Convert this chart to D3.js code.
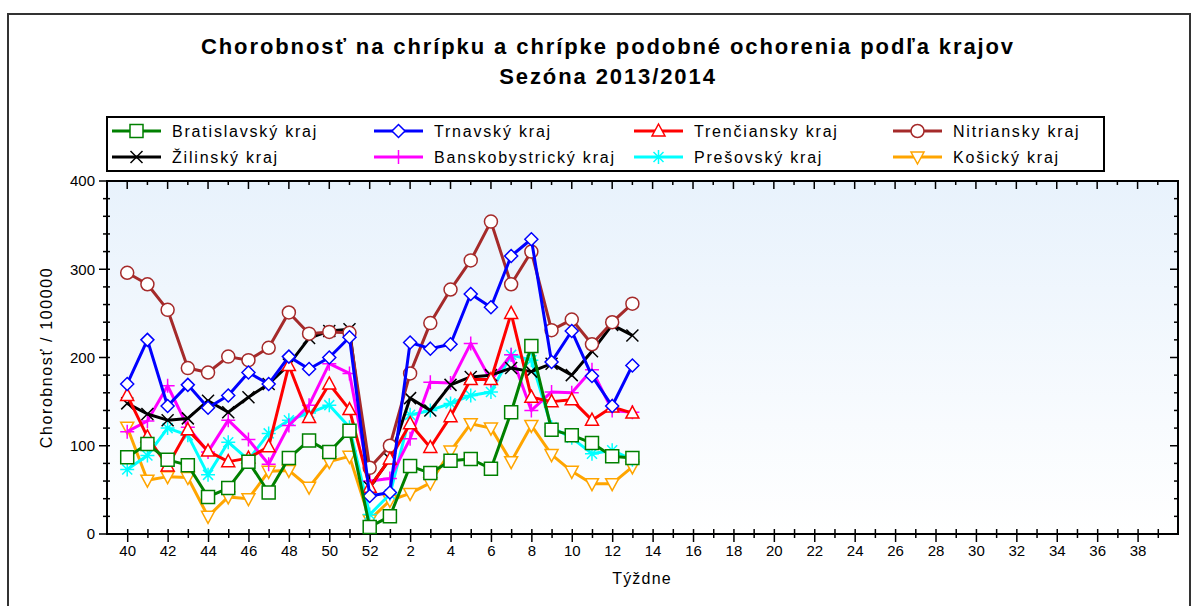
<!DOCTYPE html>
<html>
<head>
<meta charset="utf-8">
<script src="https://cdn.jsdelivr.net/npm/d3@7"></script>
<style>
  body { margin: 0; background: #fff; }
  text { font-family: "Liberation Sans", Arial, sans-serif; fill: #000; }
</style>
</head>
<body>
<div id="chart"></div>
<script>
// loading data (week 40 of 2013 .. week 13 of 2014)
var weeks = [40, 41, 42, 43, 44, 45, 46, 47, 48, 49, 50, 51, 52, 1, 2, 3, 4, 5, 6, 7, 8, 9, 10, 11, 12, 13];
var axisWeeks = [40, 41, 42, 43, 44, 45, 46, 47, 48, 49, 50, 51, 52, 1, 2, 3, 4, 5, 6, 7, 8, 9, 10, 11, 12, 13,
  14, 15, 16, 17, 18, 19, 20, 21, 22, 23, 24, 25, 26, 27, 28, 29, 30, 31, 32, 33, 34, 35, 36, 37, 38, 39];
var yTicks = [0, 100, 200, 300, 400];

var regions = ["Bratislavský kraj", "Trnavský kraj", "Trenčiansky kraj", "Nitriansky kraj",
  "Žilinský kraj", "Banskobystrický kraj", "Prešovský kraj", "Košický kraj"];

var bratislavsky = [87, 102, 84, 78, 42, 52, 82, 47, 86, 106, 93, 117, 8, 20, 77, 69, 83, 85, 74, 138, 213, 118, 112, 103, 88, 86];
var trnavsky = [170, 220, 145, 169, 143, 157, 183, 170, 201, 187, 200, 223, 43, 47, 217, 210, 215, 272, 257, 315, 334, 195, 230, 179, 145, 191];
var trenciansky = [157, 110, 77, 118, 94, 82, 86, 99, 191, 132, 170, 141, 53, 85, 125, 98, 133, 175, 175, 250, 155, 150, 152, 129, 144, 137];
var nitriansky = [296, 283, 254, 188, 183, 201, 197, 211, 251, 227, 229, 228, 75, 100, 182, 239, 277, 310, 354, 283, 320, 231, 243, 215, 240, 261];
var zilinsky = [148, 136, 129, 131, 151, 138, 155, 170, 192, 222, 230, 232, 53, 85, 154, 140, 169, 178, 180, 188, 184, 193, 180, 207, 237, 225];
var banskobystricky = [116, 128, 168, 121, 93, 129, 107, 79, 123, 146, 193, 182, 60, 63, 108, 172, 171, 216, 174, 203, 140, 161, 160, 186, 140, 138];
var presovsky = [73, 89, 120, 112, 67, 104, 84, 114, 129, 137, 146, 121, 22, 45, 135, 140, 148, 157, 161, 203, 197, 121, 109, 91, 95, 84];
var kosicky = [121, 61, 65, 64, 20, 42, 40, 71, 72, 53, 82, 88, 16, 38, 46, 58, 94, 125, 120, 82, 123, 90, 71, 57, 57, 76];

var seriesValues = [bratislavsky, trnavsky, trenciansky, nitriansky, zilinsky, banskobystricky, presovsky, kosicky];
var colors = ["#008000", "#0000ff", "#ff0000", "#a52a2a", "#000000", "#ff00ff", "#00ffff", "#ffa500"];
var markers = ["square", "diamond", "triangle", "circle", "x", "plus", "star", "triangleDown"];

// setting the dimensions and margins of the chart
var W = 1196, H = 606;
var margin = { top: 181, right: 18, bottom: 72, left: 107 };
var width = W - margin.left - margin.right,
    height = H - margin.top - margin.bottom;

var svg = d3.select("#chart")
  .append("svg")
  .attr("width", W)
  .attr("height", H);

// outer frame
svg.append("rect")
  .attr("x", 8).attr("y", 14)
  .attr("width", 1182).attr("height", 620)
  .attr("fill", "none")
  .attr("stroke", "#333")
  .attr("stroke-width", 2);

// title
var title = svg.append("text")
  .attr("x", 608)
  .attr("text-anchor", "middle")
  .attr("font-size", "22px")
  .attr("font-weight", "bold")
  .attr("letter-spacing", "1.9px");
title.append("tspan").attr("x", 608).attr("y", 54)
  .text("Chorobnosť na chrípku a chrípke podobné ochorenia podľa krajov");
title.append("tspan").attr("x", 608).attr("y", 84)
  .text("Sezóna 2013/2014");

// marker shapes
function markerPath(type) {
  switch (type) {
    case "square": return "M-6.5,-6.5H6.5V6.5H-6.5Z";
    case "diamond": return "M0,-6.5L6.5,0L0,6.5L-6.5,0Z";
    case "triangle": return "M0,-7L6.5,5H-6.5Z";
    case "triangleDown": return "M0,7L6.5,-5H-6.5Z";
    case "circle": return "M6.5,0A6.5,6.5 0 1,1 -6.5,0A6.5,6.5 0 1,1 6.5,0Z";
    case "x": return "M-6,-6L6,6M-6,6L6,-6";
    case "plus": return "M-7,0H7M0,-7V7";
    case "star": return "M-7,0H7M0,-7V7M-5,-5L5,5M-5,5L5,-5";
  }
}
function isOpen(type) { return ["x", "plus", "star"].indexOf(type) < 0; }

// legend
var legend = svg.append("g");
legend.append("rect")
  .attr("x", 107).attr("y", 117)
  .attr("width", 997).attr("height", 54)
  .attr("fill", "#fff")
  .attr("stroke", "#000")
  .attr("stroke-width", 2);
var colX = [112, 374, 634, 893];
var rowY = [131, 157];
regions.forEach(function(name, i) {
  var g = legend.append("g")
    .attr("transform", "translate(" + colX[i % 4] + "," + rowY[Math.floor(i / 4)] + ")");
  g.append("line")
    .attr("x1", 0).attr("x2", 49)
    .attr("stroke", colors[i]).attr("stroke-width", 3);
  g.append("path")
    .attr("transform", "translate(24.5,0)")
    .attr("d", markerPath(markers[i]))
    .attr("fill", isOpen(markers[i]) ? "#fff" : "none")
    .attr("stroke", colors[i])
    .attr("stroke-width", 1.5);
  g.append("text")
    .attr("x", 60).attr("y", 6)
    .attr("font-size", "16px")
    .attr("letter-spacing", "1.8px")
    .text(name);
});

// plot group
var plot = svg.append("g")
  .attr("transform", "translate(" + margin.left + "," + margin.top + ")");

// background gradient
var defs = svg.append("defs");
var grad = defs.append("linearGradient")
  .attr("id", "bg").attr("x1", 0).attr("y1", 0).attr("x2", 0).attr("y2", 1);
grad.append("stop").attr("offset", "0%").attr("stop-color", "#e8f2fc");
grad.append("stop").attr("offset", "100%").attr("stop-color", "#ffffff");
plot.append("rect")
  .attr("width", width).attr("height", height)
  .attr("fill", "url(#bg)");

// scales
var x = d3.scaleLinear().domain([-1, axisWeeks.length]).range([0, width]);
var y = d3.scaleLinear().domain([0, 400]).range([height, 0]);
var idx = d3.range(axisWeeks.length);
var minorY = d3.range(0, 401, 20);

// x axis (bottom): major ticks every two weeks carry labels
var xAxis = plot.append("g")
  .attr("transform", "translate(0," + height + ")")
  .call(d3.axisBottom(x)
    .tickValues(idx)
    .tickSize(0)
    .tickFormat(function(i) { return i % 2 === 0 ? axisWeeks[i] : ""; }));
xAxis.select(".domain").remove();
xAxis.selectAll("text")
  .attr("y", 11)
  .attr("font-size", "15px")
  .attr("font-family", "Liberation Sans, Arial, sans-serif")
  .attr("fill", "#000");
xAxis.selectAll(".tick").append("line")
  .attr("y1", -5)
  .attr("y2", function(i) { return i % 2 === 0 ? 8 : 4; })
  .attr("stroke", "#000").attr("stroke-width", 1.5);

// top ticks
plot.append("g").selectAll("line")
  .data(idx).enter().append("line")
  .attr("x1", function(i) { return x(i); })
  .attr("x2", function(i) { return x(i); })
  .attr("y1", 0)
  .attr("y2", function(i) { return i % 2 === 0 ? 8 : 4; })
  .attr("stroke", "#000").attr("stroke-width", 1.5);

// y axis (left)
var yAxis = plot.append("g")
  .call(d3.axisLeft(y).tickValues(yTicks).tickSize(0).tickPadding(12));
yAxis.select(".domain").remove();
yAxis.selectAll("text")
  .attr("font-size", "15px")
  .attr("font-family", "Liberation Sans, Arial, sans-serif")
  .attr("fill", "#000");
plot.append("g").selectAll("line")
  .data(minorY).enter().append("line")
  .attr("x1", function(v) { return v % 100 === 0 ? -8 : -4; })
  .attr("x2", 3)
  .attr("y1", function(v) { return y(v); })
  .attr("y2", function(v) { return y(v); })
  .attr("stroke", "#000").attr("stroke-width", 1.5);

// right ticks
plot.append("g").selectAll("line")
  .data(minorY).enter().append("line")
  .attr("x1", width)
  .attr("x2", function(v) { return width - (v % 100 === 0 ? 8 : 4); })
  .attr("y1", function(v) { return y(v); })
  .attr("y2", function(v) { return y(v); })
  .attr("stroke", "#000").attr("stroke-width", 1.5);

// frame of plot area
plot.append("rect")
  .attr("width", width).attr("height", height)
  .attr("fill", "none")
  .attr("stroke", "#000").attr("stroke-width", 2);

// axis titles
svg.append("text")
  .attr("transform", "translate(52," + (margin.top + height / 2) + ") rotate(-90)")
  .attr("text-anchor", "middle")
  .attr("font-size", "16px")
  .attr("letter-spacing", "1.6px")
  .text("Chorobnosť / 100000");
svg.append("text")
  .attr("x", 642)
  .attr("y", 584)
  .attr("text-anchor", "middle")
  .attr("font-size", "16px")
  .attr("letter-spacing", "1.2px")
  .text("Týždne");

// lines and markers, last legend entry drawn first
var line = d3.line()
  .x(function(d, i) { return x(i); })
  .y(function(d) { return y(d); });

d3.range(seriesValues.length).reverse().forEach(function(s) {
  var g = plot.append("g");
  g.append("path")
    .datum(seriesValues[s])
    .attr("d", line)
    .attr("fill", "none")
    .attr("stroke", colors[s])
    .attr("stroke-width", 3)
    .attr("stroke-linejoin", "round");
  g.selectAll(".pt")
    .data(seriesValues[s])
    .enter().append("path")
    .attr("class", "pt")
    .attr("transform", function(d, i) { return "translate(" + x(i) + "," + y(d) + ")"; })
    .attr("d", markerPath(markers[s]))
    .attr("fill", isOpen(markers[s]) ? "#fff" : "none")
    .attr("stroke", colors[s])
    .attr("stroke-width", 1.5);
});
</script>
</body>
</html>
